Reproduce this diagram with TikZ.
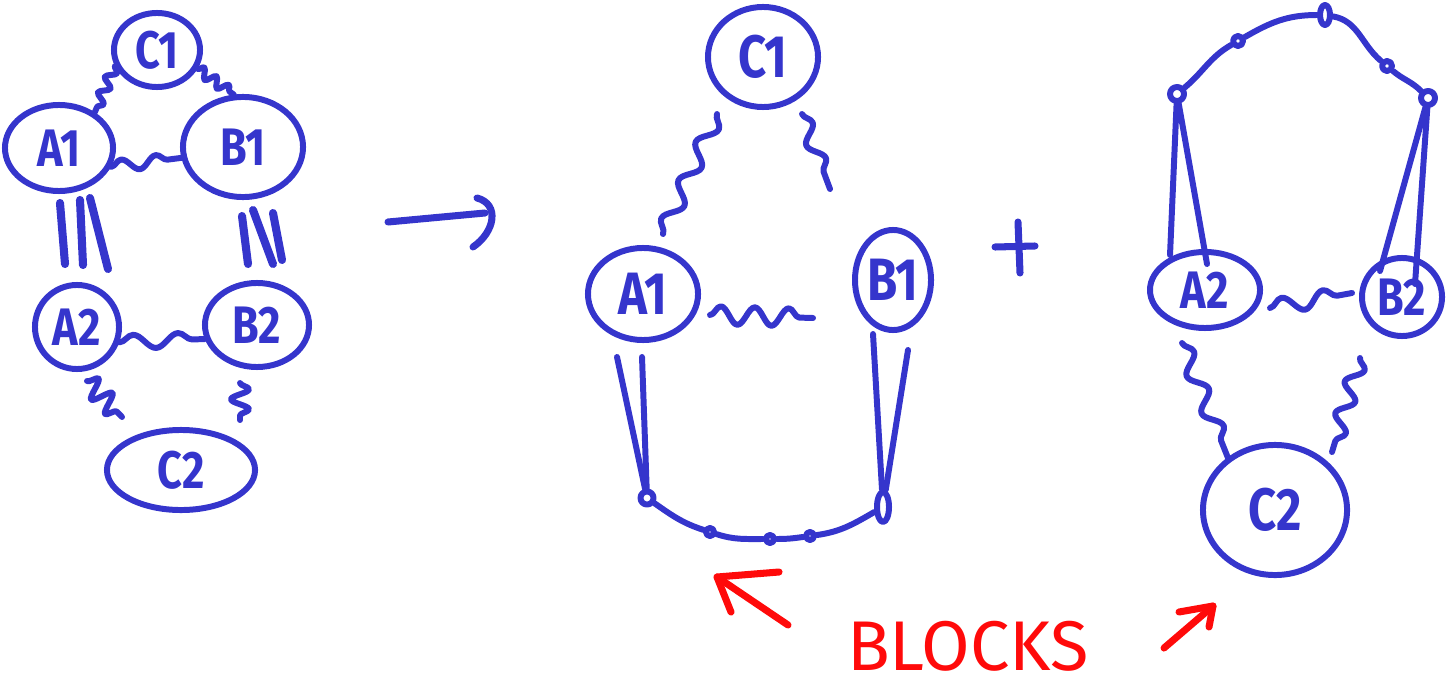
\documentclass[tikz,border=0pt]{standalone}
\usepackage{fontspec}
\setmainfont{Fira Sans}
\newfontfamily\labfont[FakeStretch=0.82]{Fira Sans}
\usetikzlibrary{shapes.geometric,decorations.pathmorphing,calc}
\definecolor{pen}{HTML}{3535CC}
\definecolor{redpen}{HTML}{FF0A0A}
\begin{document}
\begin{tikzpicture}[x=0.01cm,y=-0.01cm,line cap=round,line join=round,
  ink/.style={draw=pen,line width=1.7pt},
  thick ink/.style={draw=pen,line width=2.3pt},
  redink/.style={draw=redpen,line width=2pt},
  ell/.style={ellipse,ink,inner sep=0pt,text=pen,font=\labfont\bfseries\fontsize{15}{15}\selectfont},
  bigell/.style={ell,font=\labfont\bfseries\fontsize{17}{17}\selectfont},
  blob/.style={ellipse,ink,inner sep=0pt,minimum size=0.1cm},
  wavy/.style 2 args={ink,decorate,decoration={snake,segment length=#1,amplitude=#2}}]
\useasboundingbox (0,0) rectangle (1455,691);

% ---------- left graph ----------
\node[ell,minimum width=0.86cm,minimum height=0.74cm] (C1l) at (157,50) {C1};
\node[ell,minimum width=1.08cm,minimum height=0.86cm] (A1l) at (59,148) {A1};
\node[ell,minimum width=1.20cm,minimum height=1.00cm] (B1l) at (243,147) {B1};
\node[ell,minimum width=0.84cm,minimum height=0.84cm] (A2l) at (77,327) {A2};
\node[ell,minimum width=1.04cm,minimum height=0.84cm] (B2l) at (257,325) {B2};
\node[ell,minimum width=1.48cm,minimum height=0.80cm] (C2l) at (181,470) {C2};

\draw[wavy={0.17cm}{0.05cm}] (C1l.201) -- (A1l.45);
\draw[wavy={0.15cm}{0.05cm}] (C1l.-25) -- (B1l.100);
\draw[wavy={0.35cm}{0.06cm}] (A1l.-20) -- (B1l.190);
\draw[wavy={0.45cm}{0.07cm}] (A2l.-20) -- (B2l.195);
\draw[wavy={0.2cm}{0.1cm}] ($(A2l.south)+(10,9)$) -- ($(C2l.north)+(-59,-10)$);
\draw[wavy={0.2cm}{0.09cm}] ($(B2l.south)+(-17,13)$) -- ($(C2l.north)+(59,-7)$);

\draw[thick ink] ($(A1l.south)+(1,9)$) -- ($(A2l.north)+(-12,-18)$);
\draw[thick ink] ($(A1l.south)+(21,6)$) -- ($(A2l.north)+(6,-17)$);
\draw[thick ink] ($(A1l.south)+(31,4)$) -- ($(A2l.north)+(31,-13)$);
\draw[thick ink] ($(B1l.south)+(-1,16)$) -- ($(B2l.north)+(-9,-16)$);
\draw[thick ink] ($(B1l.south)+(10,10)$) -- ($(B2l.north)+(16,-16)$);
\draw[thick ink] ($(B1l.south)+(30,13)$) -- ($(B2l.north)+(25,-20)$);

% ---------- arrow ----------
\coordinate (arS) at (388,222);
\coordinate (arE) at (485,213);
\draw[ink,line width=2pt] (arS) -- (arE);
\draw[ink,line width=2pt] (477,198) .. controls (500,204) and (495,232) .. (473,247);

% ---------- middle graph ----------
\node[bigell,minimum width=1.10cm,minimum height=1.00cm] (C1m) at (763,57) {C1};
\node[bigell,minimum width=1.10cm,minimum height=0.92cm] (A1m) at (643,294) {A1};
\node[bigell,minimum width=0.76cm,minimum height=1.00cm] (B1m) at (893,280) {B1};

\draw[wavy={0.42cm}{0.08cm}] ($(C1m.center)+(-46,57)$) -- ($(A1m.center)+(20,-60)$);
\draw[wavy={0.38cm}{0.07cm}] ($(C1m.center)+(39,57)$) -- ($(B1m.center)+(-63,-91)$);
\draw[wavy={0.34cm}{0.09cm}] ($(A1m.center)+(67,21)$) -- ($(B1m.center)+(-80,38)$);

\node[blob,minimum size=0.13cm] (bL) at (647,498) {};
\node[blob,minimum size=0.08cm] (m1) at (710,532) {};
\node[blob,minimum size=0.08cm] (m2) at (770,539) {};
\node[blob,minimum size=0.08cm] (m3) at (810,536) {};
\node[blob,minimum width=0.12cm,minimum height=0.30cm] (bR) at (883,507) {};

\draw[ink] (bL) to[out=-35,in=162] (m1) to[out=-18,in=180] (m2)
  to[out=0,in=188] (m3) to[out=8,in=210] (bR);

\draw[ink] ($(A1m.center)+(-26,63)$) -- (bL);
\draw[ink] ($(A1m.center)+(-1,63)$) -- (bL);
\draw[ink] ($(B1m.center)+(-20,54)$) -- (bR);
\draw[ink] ($(B1m.center)+(15,70)$) -- (bR);

% ---------- plus ----------
\draw[ink,line width=2pt] (995,247) -- (1035,246);
\draw[ink,line width=2pt] (1018,222) -- (1020,273);

% ---------- right graph ----------
\node[ell,minimum width=1.10cm,minimum height=0.76cm] (A2r) at (1205,290) {A2};
\node[ell,minimum width=0.80cm,minimum height=0.78cm] (B2r) at (1402,297) {B2};
\node[bigell,minimum width=1.44cm,minimum height=1.30cm] (C2r) at (1275,510) {C2};

\node[blob,minimum size=0.14cm] (tL) at (1177,94) {};
\node[blob,minimum size=0.10cm] (t1) at (1238,41) {};
\node[blob,minimum width=0.10cm,minimum height=0.20cm] (t2) at (1325,15) {};
\node[blob,minimum size=0.10cm] (t3) at (1387,66) {};
\node[blob,minimum size=0.14cm] (tR) at (1428,98) {};

\draw[ink] (tL) to[out=40,in=210] (t1) to[out=30,in=180] (t2)
  to[out=-10,in=140] (t3) to[out=-40,in=135] (tR);

\draw[ink] (tL) -- ($(A2r.center)+(-35,-35)$);
\draw[ink] (tL) -- ($(A2r.center)+(2,-26)$);
\draw[ink] (tR) -- ($(B2r.center)+(-22,-26)$);
\draw[ink] (tR) -- ($(B2r.center)+(13,-13)$);

\draw[wavy={0.42cm}{0.08cm}] ($(A2r.center)+(65,18)$) -- ($(B2r.center)+(-50,-4)$);
\draw[wavy={0.40cm}{0.08cm}] ($(A2r.center)+(-23,53)$) -- ($(C2r.center)+(-47,-52)$);
\draw[wavy={0.33cm}{0.08cm}] ($(B2r.center)+(-42,61)$) -- ($(C2r.center)+(57,-58)$);

% ---------- red annotation ----------
\node[text=redpen,font=\fontsize{20}{20}\selectfont,inner sep=0pt] (blocks) at (968,646) {BLOCKS};
\coordinate (a1s) at (788,625);
\coordinate (a1t) at (717,577);
\draw[redink] (a1s) -- (a1t);
\draw[redink] (779,572) -- (a1t) -- (731,612);
\coordinate (a2s) at (1164,648);
\coordinate (a2t) at (1213,606);
\draw[redink] (a2s) -- (a2t);
\draw[redink] (1179,612) -- (a2t) -- (1209,627);
\end{tikzpicture}
\end{document}
